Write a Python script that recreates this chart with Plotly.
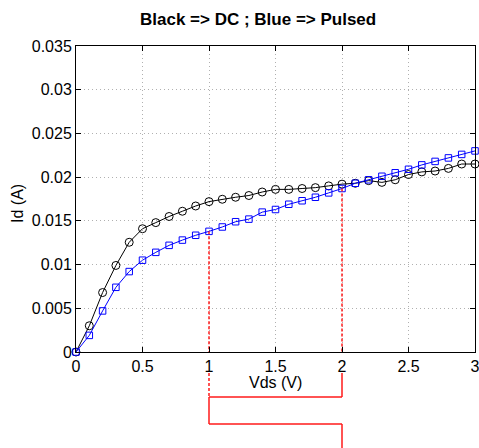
import plotly.graph_objects as go

# Drain-source voltage sweep (V)
vds = [0.0, 0.1, 0.2, 0.3, 0.4, 0.5, 0.6, 0.7, 0.8, 0.9,
       1.0, 1.1, 1.2, 1.3, 1.4, 1.5, 1.6, 1.7, 1.8, 1.9,
       2.0, 2.1, 2.2, 2.3, 2.4, 2.5, 2.6, 2.7, 2.8, 2.9, 3.0]

# Drain current, DC measurement (A)
id_dc = [0.0, 0.0030, 0.0068, 0.0099, 0.01255, 0.0141, 0.0148, 0.0155, 0.0161, 0.0167,
         0.0172, 0.01747, 0.0177, 0.0179, 0.0183, 0.0186, 0.0186, 0.0187, 0.0188, 0.0190,
         0.0192, 0.0193, 0.0196, 0.0194, 0.0197, 0.0203, 0.0206, 0.0207, 0.0210, 0.0215, 0.0215]

# Drain current, pulsed measurement (A)
id_pulsed = [0.0, 0.0019, 0.0047, 0.0074, 0.0092, 0.0105, 0.0114, 0.0122, 0.0128, 0.01335,
             0.0138, 0.0143, 0.0149, 0.0152, 0.0160, 0.0163, 0.0169, 0.0173, 0.0177, 0.0182,
             0.0187, 0.0193, 0.0197, 0.0201, 0.0205, 0.0209, 0.0214, 0.0218, 0.0222, 0.0226, 0.0230]

# Bias points marked with drop lines
marked_vds = [1.0, 2.0]

x_ticks = [0, 0.5, 1, 1.5, 2, 2.5, 3]
x_tick_text = ["0", "0.5", "1", "1.5", "2", "2.5", "3"]
y_ticks = [0, 0.005, 0.01, 0.015, 0.02, 0.025, 0.03, 0.035]
y_tick_text = ["0", "0.005", "0.01", "0.015", "0.02", "0.025", "0.03", "0.035"]

FONT = "Liberation Sans, Arial, Helvetica, sans-serif"
RED = "#ff1a1a"

fig = go.Figure()

fig.add_trace(go.Scatter(
    x=vds, y=id_dc, mode="lines+markers", cliponaxis=False,
    line=dict(color="black", width=1),
    marker=dict(symbol="circle-open", size=8, color="black", line=dict(width=1)),
    showlegend=False,
))
fig.add_trace(go.Scatter(
    x=vds, y=id_pulsed, mode="lines+markers", cliponaxis=False,
    line=dict(color="#0000ff", width=1),
    marker=dict(symbol="square-open", size=6.5, color="#0000ff", line=dict(width=1)),
    showlegend=False,
))

# Dashed drop lines from the pulsed curve down to the axis
for v in marked_vds:
    i = vds.index(v)
    fig.add_trace(go.Scatter(
        x=[v, v], y=[id_pulsed[i], 0], mode="lines", cliponaxis=False,
        line=dict(color=RED, width=1.5, dash="3px,2px"),
        showlegend=False, hoverinfo="skip",
    ))

# Connector lines below the x axis (paper units vertically)
x1, x2 = marked_vds
y_a, y_b, y_c, y_end = -0.0686, -0.147, -0.2353, -0.33
solid = dict(color=RED, width=1.5)
shapes = [
    dict(type="line", xref="x", yref="paper", x0=x1, x1=x1, y0=y_a, y1=y_b,
         line=dict(color=RED, width=1.5, dash="3px,2px")),
    dict(type="line", xref="x", yref="paper", x0=x1, x1=x1, y0=y_b, y1=y_c, line=solid),
    dict(type="line", xref="x", yref="paper", x0=x1, x1=x2, y0=y_b, y1=y_b, line=solid),
    dict(type="line", xref="x", yref="paper", x0=x2, x1=x2, y0=y_a, y1=y_b, line=solid),
    dict(type="line", xref="x", yref="paper", x0=x1, x1=x2, y0=y_c, y1=y_c, line=solid),
    dict(type="line", xref="x", yref="paper", x0=x2, x1=x2, y0=y_c, y1=y_end, line=solid),
]

axis_common = dict(
    showline=True, linecolor="black", linewidth=1, mirror="allticks",
    ticks="inside", ticklen=5, tickcolor="black", tickwidth=1,
    showgrid=True, gridcolor="#b0b0b0", gridwidth=1, griddash="1px,3px",
    zeroline=False, ticklabeloverflow="allow", automargin=False,
    tickfont=dict(family=FONT, size=16, color="black"),
)

fig.update_xaxes(range=[0, 3], tickvals=x_ticks, ticktext=x_tick_text, **axis_common)
fig.update_yaxes(range=[0, 0.035], tickvals=y_ticks, ticktext=y_tick_text, **axis_common)

annotations = [
    dict(text="<b>Black => DC ; Blue => Pulsed</b>", xref="paper", yref="paper",
         x=0.4567, y=1.085, xanchor="center", yanchor="middle", showarrow=False,
         font=dict(family=FONT, size=17, color="black")),
    dict(text="Vds (V)", xref="paper", yref="paper", x=0.5, y=-0.101,
         xanchor="center", yanchor="middle", showarrow=False,
         font=dict(family=FONT, size=16, color="black")),
    dict(text="Id (A)", xref="paper", yref="paper", x=-0.1455, y=0.487,
         xanchor="center", yanchor="middle", textangle=-90, showarrow=False,
         font=dict(family=FONT, size=16, color="black")),
]

fig.update_layout(
    width=479, height=448,
    margin=dict(l=76, r=4, t=46, b=96),
    paper_bgcolor="white", plot_bgcolor="white",
    shapes=shapes, annotations=annotations,
    font=dict(family=FONT),
)

fig.write_html("out.html")
